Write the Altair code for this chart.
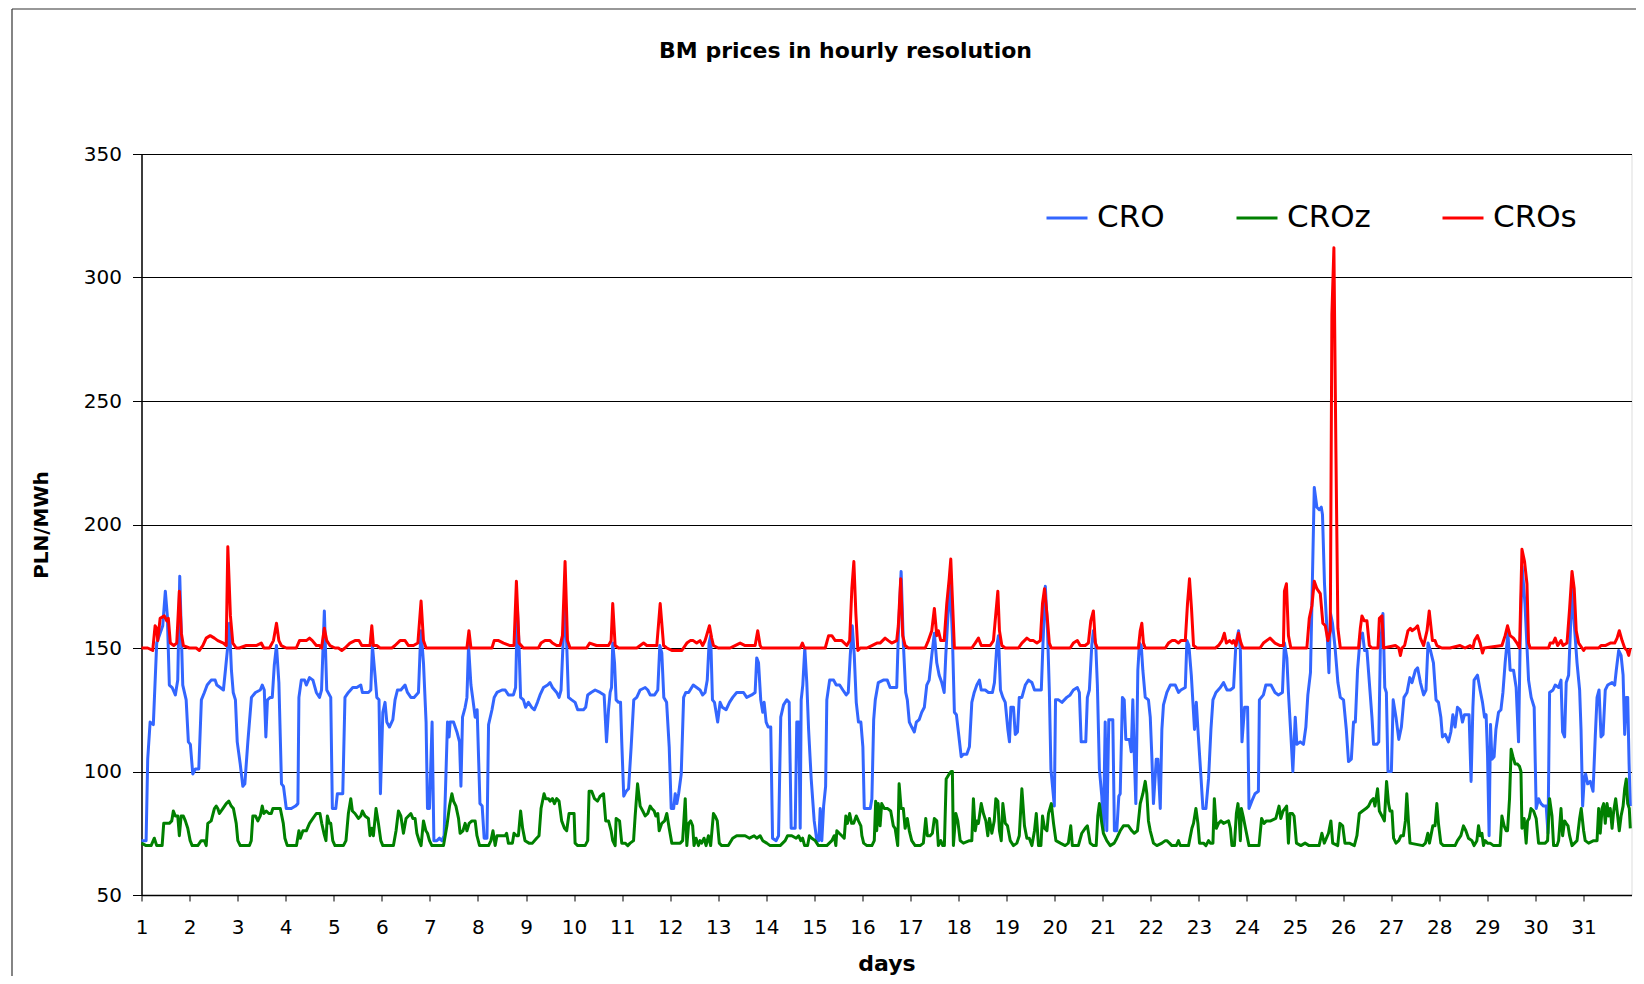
import altair as alt
import pandas as pd

TITLE = "BM prices in hourly resolution"
SERIES = ["CRO", "CROz", "CROs"]
COLORS = ["#3366FF", "#008000", "#FF0000"]
DAY_TICKS = list(range(1, 32))
Y_TICKS = [50, 100, 150, 200, 250, 300, 350]

# (hour of month, PLN/MWh)
cro = [(0,72),(2.3,72),(3.1,105),(4.3,120),(5.9,119),(7.6,152),(9.3,156),(10.6,159),(11.9,173),(12.9,163),(13.9,135),(15.3,134),(16.9,131),(18.1,137),(19.1,179),(20.6,135),(22.3,129),(23.4,112),(24.4,111),(25.6,99),(26.9,101),(28.6,101),(29.9,129),(31.4,132),(32.8,135),(34.8,137),(36.8,137),(37.6,135),(39.3,134),(40.9,133),(41.9,141),(43.1,151),(43.9,160),(44.9,141),(45.8,132),(46.9,129),(47.8,112),(49.3,103),(50.6,94),(51.6,95),(53.1,112),(54.9,130),(56.9,132),(59.3,133),(60.3,135),(61.3,133),(62.1,114),(62.9,129),(64.3,130),(65.3,130),(66.3,143),(67.4,151),(68.6,136),(69.9,95),(70.9,94),(72.3,85),(74.8,85),(76.9,86),(78.1,87),(78.6,130),(79.8,137),(81.4,137),(82.3,135),(83.9,138),(85.6,137),(87.3,132),(88.9,130),(89.9,133),
(91.3,165),(92.5,133),(94.5,130),(95.3,85),(97,85),(97.8,91),(100.5,91),(101.6,130),(103.3,132),(105.5,134),(107.5,134),(109.5,135),(110.3,132),(113.3,132),(114.5,133),(115.3,151),(116.6,139),(117.5,130),(118.6,129),(119.3,91),(120.5,124),(121.6,128),(122.5,120),(123.8,118),(125.5,121),(126.6,129),(127.8,133),(129.5,133),(131.6,135),(132.8,132),(134.5,130),(136.1,130),(138.3,132),(139.1,149),(139.6,157),(140.8,144),(142.1,120),(142.8,85),(143.8,85),(145.1,120),(146,72),(147.5,72),(148.8,73),(150,72),(151.1,74),(152.8,120),(153.6,114),(154.1,120),(155.8,120),(157.5,116),(158.8,112),(159.5,94),(160.3,122),(161.6,126),(162.5,130),(163.3,151),(164.5,135),(165.5,129),(166.6,122),(167.6,125),(169,87),(170.1,86),(171.1,73),(172.5,73),(173.3,119),(175,125),(176.1,130),(177.5,132),(180,133),(181.6,133),
(183.2,131),(185.7,131),(186.8,134),(187.7,166),(188.5,151),(189.3,130),(190.7,129),(191.8,126),(193.2,128),(194.8,126),(196.2,125),(197.7,128),(199,131),(200.7,134),(202.8,135),(204,136),(205.2,134),(207.3,132),(208.5,130),(209.5,133),(210.5,152),(211.5,167),(212.3,152),(213.2,130),(214.8,129),(216.5,128),(217.8,125),(220.7,125),(221.8,126),(222.8,131),(224.5,132),(226.5,133),(229,132),(231,131),(232.2,112),(233.2,125),(234,132),(234.7,134),(235.3,152),(236.2,144),(237,129),(238.2,128),(239.2,128),(239.8,112),(240.8,90),(242,92),(243.2,93),(244.5,110),(245.8,129),(247.3,130),(249,133),(251.5,134),(252.8,133),(254,131),(256.2,131),(257.8,133),(258.8,151),(259.8,148),(260.8,130),(262.2,128),(263.5,110),(264.5,85),(265.7,85),(266.5,91),(267.3,87),(268.2,91),(269.5,99),(270.7,130),(271.8,132),(273.2,132),
(275.5,135),(277.2,134),(278.9,133),(280.2,131),(281.4,132),(282.5,137),(283.4,152),(284.2,155),(285.1,129),(286.1,128),(287.7,120),(288.9,128),(290,126),(291.9,125),(293.6,128),(295.2,130),(297.2,132),(298.9,132),(300.6,132),(302.2,130),(304.7,131),(306.4,132),(307.2,146),(308.1,144),(309.2,129),(310.2,124),(310.9,128),(311.9,120),(312.9,118),(314.2,118),(315.1,73),(316.9,72),(318.1,74),(319.2,122),(320.6,127),(322.2,129),(323.4,128),(324.4,77),(326.4,77),(327.2,120),(328.2,120),(328.9,77),(329.4,129),(330.2,135),(331.2,150),(332.2,136),(333.1,117),(334.4,97),(335.9,80),(337.2,72),(338.2,72),(338.9,85),(339.7,72),(340.6,86),(341.6,94),(342.2,129),(343.6,137),(345.6,137),(346.9,135),(348.6,135),(350.2,133),(351.9,131),(352.9,132),(353.9,147),(354.9,159),(355.9,147),(356.9,128),(358,120),(359.2,120),(360.2,110),(360.9,85),(363.9,85),(364.7,89),(365.6,121),(366.4,129),
(367.9,136),(370.4,137),(372.4,137),(373.8,134),(377.1,134),(377.9,155),(379.3,181),(380.4,152),(381.6,132),(382.4,129),(383.4,120),(384.6,118),(385.9,116),(386.9,120),(388.3,121),(389.6,124),(390.9,126),(392.1,135),(393.3,137),(394.6,147),(395.9,156),(397.1,144),(398.3,139),(399.6,136),(400.8,132),(401.6,147),(402.6,162),(403.8,176),(404.9,155),(405.9,124),(406.9,123),(407.9,116),(409.3,106),(410.4,107),(412.1,107),(413.4,110),(414.6,128),(415.8,132),(417.1,135),(418.4,137),(419.3,133),(421.3,133),(422.9,132),(424.9,132),(425.9,136),(427.1,151),(427.9,155),(428.9,133),(430.1,130),(431.3,128),(432.6,117),(433.4,112),(434.1,126),(435.4,126),(436.3,115),(437.4,116),(438.3,130),(439.6,130),(441.3,135),(442.9,137),(444.6,136),(445.9,133),(447.9,133),(449.3,133),(450.1,151),(451.3,175),(452.4,157),(453.3,133),(454.1,101),(454.9,94),(455.8,86),(456.4,129),(457.9,129),
(459.6,128),(462,130),(463.7,131),(465.3,133),(467.3,134),(468.3,132),(469.2,112),(470.7,112),(471.5,112),(472.3,130),(473.3,133),(474.5,151),(475.3,157),(476.5,151),(477.3,135),(478.3,101),(479.5,90),(480.3,76),(481.2,120),(482,76),(483,121),(485,121),(485.8,76),(487,76),(488,90),(488.7,91),(489.8,130),(490.7,129),(491.5,113),(493.3,113),(494.2,108),(495,129),(495.7,107),(496.5,87),(497.5,141),(498.3,152),(499.2,151),(500,141),(501.2,130),(502.8,129),(503.7,122),(504.5,106),(505.3,87),(506.7,105),(507.5,105),(508.7,85),(509.5,117),(510.3,127),(512,132),(513.7,135),(516.2,135),(517.8,132),(519,133),(521.2,134),(522,153),(523,151),(524.2,139),(525.8,117),(526.7,128),(527.5,117),(528.7,102),(530,85),(531.5,85),(532.8,97),(534,117),(535,129),(536.5,132),(538.7,134),(540.3,136),(542,133),(543.7,133),(545.3,134),(546.5,152),(547.8,157),(548.7,149),(549.5,112),(550.8,126),(552.3,126),
(553,85),(554.4,88),(556,91),(557.7,92),(558.2,129),(560.2,131),(561.4,135),(564,135),(566,132),(567.7,131),(569.7,132),(570.7,152),(571.9,146),(572.7,132),(573.9,115),(574.9,100),(576.1,122),(576.9,111),(578.6,112),(580.2,111),(581.4,118),(582.4,131),(583.7,140),(584.4,167),(585.6,215),(586.9,207),(588.1,206),(589.1,207),(589.7,204),(590.7,176),(591.9,158),(592.9,140),(593.7,164),(594.7,160),(596,150),(597.4,136),(598.6,130),(600.2,129),(601.6,117),(602.7,104),(604.1,105),(605.2,120),(606.1,120),(607.2,141),(608.6,155),(609.7,156),(610.7,149),(611.9,149),(613.1,136),(614.4,122),(615.2,111),(616.9,111),(617.8,112),(618.6,150),(619.9,164),(620.8,134),(621.6,132),(622.4,100),(624.1,100),(625,129),(626.4,122),(627.8,113),(629.1,118),(630.4,130),(631.9,132),(633.3,138),(634.4,136),(636.1,141),(637.2,142),(638.6,136),(640.2,131),(641.4,133),(642.4,152),
(643.6,149),(645.1,144),(646.4,129),(647.6,128),(648.8,122),(649.6,114),(651,115),(652.6,112),(653.8,116),(654.8,123),(655.9,118),(657.1,126),(658.4,125),(659.6,120),(660.6,123),(662.9,123),(663.9,96),(664.8,126),(665.4,137),(667.1,139),(668.4,133),(669.6,128),(670.6,122),(671.4,123),(672.1,107),(672.9,74),(673.6,119),(674.3,105),(675.4,106),(676.3,117),(677.6,124),(678.8,125),(679.8,132),(680.9,144),(682.3,156),(683.4,141),(685.1,141),(686.4,134),(687.6,112),(688.4,152),(689.4,183),(690.8,168),(692.6,137),(693.9,130),(695.4,126),(696.4,85),(697.6,89),(698.8,87),(700.1,86),(701.4,86),(702.3,75),(703.1,132),(704.8,133),(705.9,135),(707.6,134),(708.8,137),(709.6,116),(710.6,114),(711.4,136),(712.6,139),(713.4,155),(714.3,174),(715.4,160),(716.8,144),(718.1,133),(718.8,117),(719.6,86),(720.4,97),(721.1,99),(722.1,95),(723.4,96),(724.8,92),(725.9,114),(726.8,130),(727.8,133),(728.8,114),(729.8,115),(730.9,133),(732.1,135),(734.3,136),(735.6,135),(736.4,141),(737.6,149),(738.8,147),(739.8,139),(740.6,115),(741.4,130),(742.1,130),(742.8,103),(743.4,86)]

croz = [(0,71),(2.3,70),(4.8,70),(6.4,73),(7.6,70),(10.3,70),(11.1,79),(11.9,79),(13.9,79),(15.1,80),(15.9,84),(16.9,82),(18.1,82),(18.9,74),(19.8,82),(20.9,82),(21.9,80),(23.1,77),(24.3,72),(25.3,70),(28.1,70),(29.8,72),(31.4,72),(32.3,70),(33.1,79),(34.8,80),(36.4,85),(37.3,86),(38.1,85),(38.9,83),(40.6,85),(42.3,87),(43.6,88),(44.8,86),(45.9,85),(47.3,79),(48.1,72),(49.3,70),(53.9,70),(54.8,72),(55.6,82),(56.9,82),(58.1,80),(59.3,82),(60.3,86),(61.1,83),(62.3,84),(63.6,83),(64.8,83),(65.6,85),(67.3,85),(69.3,85),(70.8,79),(71.6,73),(72.8,70),(77.4,70),(78.6,76),(79.3,73),(80.6,76),(82.3,76),(83.9,79),(85.6,81),(87.3,83),(88.6,83),(89.1,83),(90,79),(91.1,75),(92.1,72),(92.8,82),(93.8,79),(94.5,79),(95.5,72),(96.6,70),(100.8,70),(102.1,72),(103.3,83),(104.5,89),(105.3,84),(106.6,83),(108.3,81),(109.5,82),(110.3,84),(111.6,82),(113.3,81),(114.1,74),(115,77),(115.8,74),(117.1,85),(118.3,79),(119.5,72),(120.5,70),(125.8,70),(127.1,76),(128.3,84),(129.5,82),(130.8,75),(132.1,81),(133.3,82),(134.5,83),(135.5,81),(136.6,81),(137.5,75),(138.6,72),(139.6,70),(140.8,80),(142,76),(142.8,75),(143.8,72),(145,70),(150.8,70),(152.5,78),(153.8,86),(155,91),(155.8,88),(157,86),(158.3,81),(159.1,75),(160.5,76),(161.6,79),(162.5,76),(163.6,79),(165,80),(166.6,80),(167.5,74),(168.8,70),(173.3,70),(174.5,72),(175.5,76),(176.6,70),(177.5,74),(179.1,74),(180.5,74),(181.6,74),(182.3,75),(183.2,71),(185.2,71),(186,75),(187.3,74),(188.2,74),(189.3,84),(190.3,77),(191.5,72),(193.5,71),(195.2,71),(197.3,73),(198.5,74),(199.5,85),(201,91),(201.8,89),(203.2,89),(204,88),(205.2,89),(206.2,87),(207.3,89),(208.5,88),(209.8,80),(211.2,77),(212.3,76),(213.5,83),(214.8,83),(216,83),(216.5,71),(217.8,70),(221.5,70),(222.8,72),(223.5,92),(224.8,92),(226.2,89),(227.7,88),(229,90),(230.7,91),(231.8,80),(233.2,80),(234.5,76),(235.3,72),(236.5,70),(237,81),(238.7,80),(239.8,71),(241.5,71),(242.8,70),(244,71),(245.7,72),(246.5,82),(247.7,95),(249,86),(250.3,84),(251.5,82),(252.8,83),(254,86),(254.8,85),(256,84),(256.8,82),(257.8,83),(258.5,76),(259.8,79),(261.2,80),(262.3,83),(263.5,77),(264.8,71),(269,71),(270.2,72),(271.5,89),(272.3,70),(273.2,79),(274.2,80),(275.2,78),(275.9,70),(276.9,73),(278.1,70),(278.9,72),(279.7,71),(280.9,73),(281.9,70),(283.1,74),(284.2,70),(285.6,83),(286.4,82),(287.5,80),(288.5,71),(289.7,70),(293,70),(295.2,73),(297.2,74),(301.4,74),(303.6,73),(305.9,74),(307.2,73),(308.9,74),(310.2,72),(312.2,71),(313.9,70),(318.9,70),(321.4,72),(322.6,74),(324.7,74),(326.9,73),(328.1,74),(329.2,72),(330.1,73),(331.1,70),(332.6,70),(333.5,74),(334.7,73),(336.4,72),(338,70),(342.2,70),(344.7,72),(345.9,74),(346.7,70),(347.2,76),(348.4,75),(349.7,74),(350.9,73),(351.7,82),(352.5,79),(353.6,83),(354.6,79),(355.6,79),(356.9,82),(358,80),(359.2,78),(359.7,74),(360.6,71),(362.2,70),(364.7,70),(365.9,72),(366.6,88),(367.1,76),(367.9,87),(368.8,78),(369.6,87),(370.9,85),(372.6,85),(374.1,84),(375.4,78),(376.3,77),(377.6,70),(378.3,95),(379.3,85),(380.4,85),(381.3,77),(382.4,81),(383.4,76),(384.6,72),(386.3,70),(388.8,70),(390.4,71),(391.6,81),(392.4,74),(393.8,74),(394.9,75),(395.9,81),(397.1,80),(397.9,70),(399.1,72),(400.1,70),(400.9,70),(401.8,97),(403.3,99),(404.3,100),(404.9,100),(405.4,70),(406.6,83),(407.6,80),(408.8,72),(410.4,71),(413.4,72),(414.6,72),(415.4,89),(416.3,76),(417.1,80),(417.9,79),(419.3,87),(420.4,83),(421.6,80),(422.6,74),(423.4,81),(424.6,75),(425.8,80),(426.6,89),(427.6,88),(428.4,76),(429.3,72),(430.1,87),(431.3,79),(432.4,78),(433.8,72),(435.4,70),(437.1,71),(438.3,74),(439.6,93),(440.9,78),(442.1,73),(443.3,73),(444.6,70),(445.9,76),(446.8,83),(447.9,70),(449.1,70),(449.9,82),(450.9,77),(452.1,76),(452.9,83),(454.3,87),(455.4,79),(456.6,72),(458.8,71),(461.2,70),(462.8,71),(464,78),(464.8,70),(467.8,70),(469.5,75),(471.2,77),(472.3,78),(473.7,71),(475.3,70),(476.7,70),(477.5,82),(478.3,87),(479.5,79),(480.3,75),(482,72),(483.7,70),(485.7,71),(487,73),(488.7,76),(490.3,78),(492.8,78),(494.5,76),(495.7,75),(497.3,76),(498.7,87),(500,91),(501.2,96),(502,91),(502.8,80),(503.7,76),(505.3,71),(507,70),(509.5,71),(511.2,72),(512,72),(513.3,71),(514.5,70),(516.7,70),(517.8,72),(518.7,70),(522.8,70),(524.5,77),(525.3,79),(526.5,85),(527.5,79),(528.3,71),(530.3,71),(531.5,70),(532.8,72),(533.7,71),(535,71),(535.7,89),(536.7,77),(537.8,79),(539,80),(540.3,79),(542.8,80),(543.7,77),(544.5,70),(545.7,70),(546.7,83),(547.5,87),(548.2,80),(548.7,72),(549.2,85),(550.3,81),(551.5,76),(553,70),(558,70),(559.3,81),(560.5,79),(561.7,80),(563.8,80),(566.4,81),(568,86),(568.9,81),(570,84),(571,85),(571.8,86),(572.7,71),(573.5,83),(574.7,83),(575.5,82),(576.7,71),(578.9,70),(581,71),(583,70),(588,70),(589.4,75),(590.6,71),(592.7,75),(593.9,80),(594.8,71),(597.3,70),(598.4,79),(599.8,78),(600.9,71),(603.1,71),(605.6,70),(606.9,74),(608.1,83),(609.7,84),(611.4,85),(612.7,86),(613.9,88),(615.1,89),(615.9,86),(617.2,93),(618.1,84),(619.4,82),(620.6,80),(621.7,96),(622.7,87),(623.4,84),(624.4,84),(625.2,73),(626.4,71),(627.8,72),(628.9,74),(630.1,74),(631.1,80),(631.8,91),(632.6,80),(633.4,71),(639.8,70),(641.1,71),(642.3,75),(643.1,71),(644.8,78),(645.9,78),(646.8,87),(647.6,79),(648.8,71),(650.1,70),(655.9,70),(657.1,72),(658.8,74),(660.1,78),(661.3,76),(662.6,73),(664.3,72),(665.4,70),(666.8,72),(667.6,78),(668.4,74),(669.3,75),(670.1,70),(670.9,72),(672.1,71),(673.4,71),(675.1,70),(678.4,70),(679.3,82),(680.4,78),(681.4,76),(682.1,76),(683.1,89),(683.9,109),(684.8,106),(685.9,103),(687.1,103),(688.1,102),(688.8,100),(689.3,77),(690.4,81),(691.4,71),(692.1,80),(692.9,81),(693.8,85),(695.1,84),(696.4,81),(697.6,71),(700.9,71),(702.1,72),(703.1,89),(704.3,82),(705.1,70),(706.8,70),(707.6,72),(708.8,85),(709.6,74),(710.6,80),(711.4,79),(712.3,78),(713.1,74),(714.3,70),(716.8,72),(718.1,81),(718.9,85),(720.1,76),(720.9,72),(722.6,71),(725.1,72),(726.8,72),(727.6,85),(728.4,75),(729.3,85),(730.1,87),(730.9,79),(731.8,87),(732.6,82),(733.4,85),(734.3,77),(735.1,84),(736.1,89),(737.1,82),(737.9,76),(738.8,82),(739.8,86),(740.6,93),(741.4,97),(742.1,87),(742.9,85),(743.4,77)]

cros = [(0,150),(3.1,150),(5.6,149),(6.8,159),(7.6,158),(8.1,153),(9.3,162),(11.4,163),(12.6,161),(13.4,162),(14.4,152),(16.1,151),(17.6,152),(18.9,173),(19.9,156),(20.9,151),(23.9,150),(27.3,150),(28.9,149),(30.6,151),(32.3,154),(34.3,155),(36.4,154),(38.1,153),(40.9,152),(42.3,151),(43.1,191),(44.4,163),(45.6,152),(47.3,150),(48.9,150),(52.3,151),(54.8,151),(57.3,151),(59.8,152),(61.1,150),(63.9,150),(65.9,153),(67.4,160),(68.6,153),(69.8,151),(72.3,150),(77.3,150),(78.9,153),(80.6,153),(82.3,153),(83.9,154),(85.3,153),(87.3,151),(88.9,151),(89.9,150),(91.3,158),(92.5,153),(94.1,151),(96.6,150),(98.3,150),(100,149),(101.6,150),(104.1,152),(106.6,153),(108.6,153),(110,151),(112.5,151),(114.1,151),(115,159),(115.8,151),(117.5,151),(119.1,150),(125,150),(126.6,151),(129.1,153),(131.6,153),(133.3,151),(135.8,151),(138,152),(139.6,169),(140.8,153),(142.1,150),(162.5,150),(163.5,157),(164.5,150),(175,150),(176.1,153),(178.3,153),(180.8,152),(184,151),(186,151),(187.2,177),(188.5,152),(190.7,150),(198.2,150),(199.5,152),(201.5,153),(204,153),(205.2,152),(207.3,151),(209,151),(210.2,155),(211.5,185),(212.7,153),(214,150),(222.2,150),(223.8,152),(227.2,151),(230.5,151),(233.2,151),(234.5,153),(235.3,168),(236.5,151),(238.2,150),(247.3,150),(249,151),(250.7,152),(252.3,151),(257.3,151),(259,168),(260.7,151),(262.3,150),(264.8,149),(269.8,149),(272.3,152),(274,153),(275.5,153),(277.2,152),(278.9,153),(280.2,151),(281.4,153),(283.6,159),(284.7,154),(285.6,151),(288,150),(293.9,150),(296.4,151),(298.9,152),(301.4,151),(306.4,151),(307.7,157),(308.9,151),(309.7,150),(328.9,150),(330,152),(331,150),(341.4,150),(343.1,155),(344.7,155),(346.4,153),(349.7,153),(352.2,151),(353.6,153),(354.7,174),(355.7,185),(356.7,164),(357.7,149),(358.9,150),(362.2,150),(364.7,151),(367.2,152),(368.8,152),(371.3,154),(372.9,153),(374.6,152),(377.1,153),(377.9,159),(379.1,178),(380.1,155),(381.3,151),(382.9,150),(391.3,150),(392.9,153),(394.6,157),(395.9,166),(397.1,155),(397.9,157),(399.1,153),(400.8,153),(402.1,168),(403.3,178),(404.1,186),(405.1,166),(405.9,150),(414.6,150),(416.3,152),(417.9,154),(419.3,151),(423.8,151),(425.4,153),(426.6,164),(427.6,173),(428.4,157),(429.6,151),(431.3,150),(437.9,150),(439.6,152),(442.1,154),(443.8,153),(445.4,153),(447.1,152),(448.8,153),(449.9,168),(450.9,174),(452.1,164),(453.3,152),(454.3,150),(463.7,150),(465.3,152),(467.3,153),(468.7,151),(471.2,151),(472.8,152),(474,161),(475.3,165),(476.3,152),(477.3,150),(497.8,150),(498.7,157),(499.5,160),(500.3,152),(501.2,150),(511.2,150),(512.8,152),(514.5,153),(516.2,153),(517.8,152),(519,153),(521.2,153),(522.3,168),(523.3,178),(524.3,166),(525.3,151),(527,150),(536.2,150),(537.8,151),(539.5,153),(540.7,156),(541.7,152),(543.3,153),(544.5,152),(545.3,153),(546.5,151),(547.8,156),(549,152),(550,150),(558.5,150),(560.2,152),(563.5,154),(566,152),(568.5,151),(570.2,151),(570.7,173),(571.7,176),(572.7,155),(573.9,150),(581.9,150),(583.1,162),(584.4,167),(585.6,177),(586.9,174),(588.6,172),(589.9,160),(591.1,159),(592.4,153),(593.6,157),(594.4,285),(595.4,312),(596.4,230),(597.4,158),(598.6,150),(607.7,150),(608.6,158),(609.4,163),(610.6,161),(611.9,161),(613.1,151),(614.4,150),(617.4,150),(618.1,162),(619.4,163),(620.2,150),(626.1,151),(627.8,150),(628.6,147),(629.4,150),(630.7,151),(632.4,157),(633.6,158),(634.4,157),(636.1,158),(637.2,159),(638.6,154),(640.2,151),(641.9,157),(643,165),(644.6,153),(645.9,153),(646.8,151),(649.3,150),(653.4,150),(658.4,151),(660.9,150),(663.4,151),(664.8,150),(665.6,153),(667.1,155),(668.4,152),(669.6,148),(670.4,150),(679.3,151),(680.9,155),(682.1,159),(683.4,155),(685.1,154),(686.8,152),(688.1,150),(689.3,190),(690.6,185),(691.8,176),(692.6,152),(693.4,150),(702.6,150),(703.4,152),(704.8,152),(705.9,154),(707.1,151),(708.8,153),(709.8,151),(711.8,152),(713.1,166),(714.3,181),(715.4,174),(716.4,157),(717.6,152),(719.3,150),(720.1,149),(720.9,150),(727.6,150),(728.8,151),(730.9,151),(733.4,152),(735.6,152),(736.8,154),(737.9,157),(739.3,153),(740.6,150),(741.8,149),(742.6,147),(743.4,150)]

rows = []
for name, pts in zip(SERIES, [cro, croz, cros]):
    for h, v in pts:
        rows.append({"series": name, "day": 1 + h / 24.0, "price": v})
df = pd.DataFrame(rows)

FONT = "DejaVu Sans"

x_enc = alt.X(
    "day:Q",
    scale=alt.Scale(domain=[1, 32], nice=False, zero=False),
    axis=alt.Axis(
        values=DAY_TICKS, format="d", title="days", grid=False,
        tickSize=6, tickColor="black", tickWidth=1,
        domainColor="black", domainWidth=1.5,
        labelFont=FONT, labelFontSize=20, labelColor="black", labelPadding=16,
        labelFlush=False, labelOverlap=False,
        titleFont=FONT, titleFontSize=22, titleFontWeight="bold", titleColor="black",
        titlePadding=16,
    ),
)
y_enc = alt.Y(
    "price:Q",
    scale=alt.Scale(domain=[50, 350], nice=False, zero=False),
    axis=alt.Axis(
        values=Y_TICKS, title="PLN/MWh", grid=True, gridColor="black", gridWidth=1,
        tickSize=9, tickColor="black", tickWidth=1,
        domainColor="black", domainWidth=1.5,
        labelFont=FONT, labelFontSize=20, labelColor="black", labelPadding=11,
        labelFlush=False, labelOverlap=False,
        titleFont=FONT, titleFontSize=20, titleFontWeight="bold", titleColor="black",
        titlePadding=32,
    ),
)
color_enc = alt.Color(
    "series:N",
    scale=alt.Scale(domain=SERIES, range=COLORS),
    legend=alt.Legend(
        orient="none", legendX=903.5, legendY=42, direction="horizontal", title=None,
        symbolType="stroke", symbolSize=1681, symbolStrokeWidth=3,
        labelFont=FONT, labelFontSize=31, labelColor="black", labelOffset=8,
        columnPadding=65, padding=0,
    ),
)

layers = []
for name in SERIES:
    layers.append(
        alt.Chart(df).transform_filter(alt.datum.series == name)
        .mark_line(strokeWidth=3.0, strokeJoin="round")
        .encode(x=x_enc, y=y_enc, color=color_enc)
    )

deco_df = pd.DataFrame({"k": [0]})
left_edge = alt.Chart(deco_df).mark_rule(color="#333333", strokeWidth=1.2).encode(
    x=alt.value(-129.5), y=alt.value(-145), y2=alt.value(900)
)
top_edge = alt.Chart(deco_df).mark_rule(color="#333333", strokeWidth=1.2).encode(
    x=alt.value(-129.5), x2=alt.value(1600), y=alt.value(-145)
)
title_mark = alt.Chart(deco_df).mark_text(
    font=FONT, fontSize=22, fontWeight="bold", color="black",
    align="center", baseline="middle",
).encode(x=alt.value(704), y=alt.value(-103), text=alt.value(TITLE))

chart = (
    alt.layer(*layers, left_edge, top_edge, title_mark)
    .properties(
        width=1490, height=741,
        autosize=alt.AutoSizeParams(type="none"),
        padding={"left": 133.5, "top": 146, "right": 4, "bottom": 81},
    )
    .configure_view(stroke="black", strokeWidth=1.5)
    .configure(background="white")
)

chart.save("out.html", embed_options={"renderer": "svg", "actions": False})
